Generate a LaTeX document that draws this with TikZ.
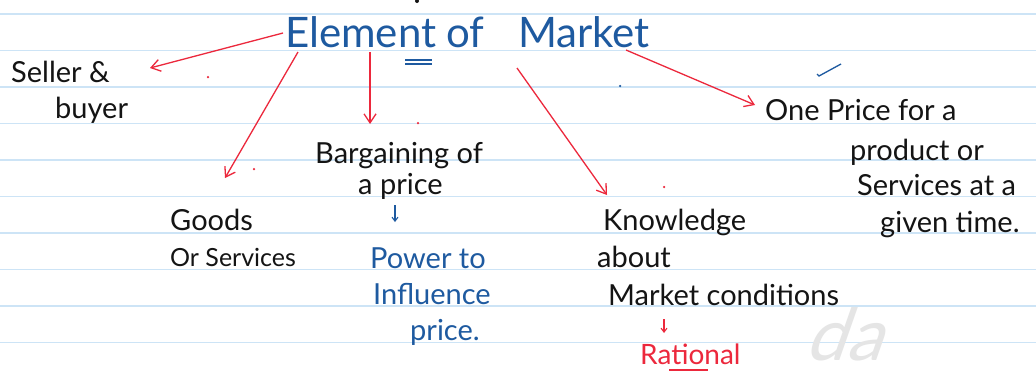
\documentclass[tikz,border=0pt]{standalone}
\usepackage{fontspec}
\setmainfont{Lato}
\usetikzlibrary{arrows.meta}
\definecolor{rule}{RGB}{205,228,246}
\definecolor{ink}{RGB}{20,20,20}
\definecolor{pen}{RGB}{30,90,160}
\definecolor{redpen}{RGB}{236,40,60}
\tikzset{
  x=1pt,y=-1pt,
  txt/.style={anchor=base west,inner sep=0pt,text=ink,font=\fontsize{29}{29}\selectfont},
  bluetxt/.style={txt,text=pen},
  redtxt/.style={txt,text=redpen},
  titletxt/.style={txt,text=pen,font=\fontsize{42}{42}\selectfont},
  link/.style={draw=redpen,line width=1.3pt,-{Straight Barb[length=9pt,width=12pt]}},
  minilink/.style={line width=1.1pt,-{Straight Barb[length=4pt,width=6pt]}},
  dotmark/.style={fill=redpen,draw=none,circle,inner sep=0pt,minimum size=2.5pt}
}
\begin{document}
\begin{tikzpicture}
\useasboundingbox (0,0) rectangle (1036,373);
\clip (0,0) rectangle (1036,373);
\fill[white] (0,0) rectangle (1036,373);
% ruled paper
\foreach \yy in {14,50.5,87,123.5,160,196.5,233,269.5,306,342.5}
  \draw[rule,line width=1.6pt] (0,\yy) -- (1036,\yy);
% watermark
\node[text=black!10,font=\fontsize{72}{72}\selectfont,xslant=0.35,inner sep=0pt] (wm) at (852,334) {da};
% title
\node[titletxt] (t1) at (285,47) {Element};
\node[titletxt] (t2) at (446,47) {of};
\node[titletxt] (t3) at (518,47) {Market};
\draw[pen,line width=1.3pt] (405,60) -- (432,60) (405,64) -- (432,64);
% left
\node[txt] (seller) at (11,82) {Seller \&};
\node[txt] (buyer) at (55,118) {buyer};
\node[txt] (goods) at (170,230) {Goods};
\node[txt,font=\fontsize{25}{25}\selectfont] (services) at (170,266) {Or Services};
% bargaining
\node[txt] (barg) at (315,163) {Bargaining of};
\node[txt] (aprice) at (358,194) {a price};
\node[bluetxt] (power) at (370,268) {Power to};
\node[bluetxt] (infl) at (373,304) {Influence};
\node[bluetxt] (price) at (410,340) {price.};
\coordinate (pa) at (395,205);
\coordinate (pb) at (395,222);
\draw[pen,minilink] (pa) -- (pb);
% knowledge
\node[txt] (know) at (603,230) {Knowledge};
\node[txt] (about) at (597,267) {about};
\node[txt] (mkt) at (608,305) {Market conditions};
\node[redtxt,font=\fontsize{28}{28}\selectfont] (rat) at (640,364) {Rational};
\coordinate (ra) at (664,319);
\coordinate (rb) at (664,333);
\draw[redpen,minilink] (ra) -- (rb);
\draw[redpen,line width=1.2pt] (669,370) -- (708,370);
% one price
\node[txt] (one) at (765,120) {One Price for a};
\node[txt] (prod) at (850,160) {product or};
\node[txt] (serv) at (857,195) {Services at a};
\node[txt] (given) at (880,232) {given time.};
% check mark
\draw[pen,line width=1.3pt] (817,74) -- (819,76) -- (841,64);
% arrows
\coordinate (a1) at (283,33);
\coordinate (b1) at (150,68);
\coordinate (a2) at (298,52);
\coordinate (b2) at (225,178);
\coordinate (a3) at (370,52);
\coordinate (b3) at (370,124);
\coordinate (a4) at (517,68);
\coordinate (b4) at (607,195);
\coordinate (a5) at (626,50);
\coordinate (b5) at (755,105);
\draw[link] (a1) -- (b1);
\draw[link] (a2) -- (b2);
\draw[link] (a3) -- (b3);
\draw[link] (a4) -- (b4);
\draw[link] (a5) -- (b5);
% stray dots
\node[dotmark] (d1) at (208,77) {};
\node[dotmark] (d2) at (254,169) {};
\node[dotmark] (d3) at (418,123) {};
\node[dotmark] (d4) at (664,187) {};
\node[dotmark,fill=pen] (d5) at (620,86) {};
\node[dotmark,fill=ink,minimum size=4pt] (d6) at (417,1) {};
\end{tikzpicture}
\end{document}
